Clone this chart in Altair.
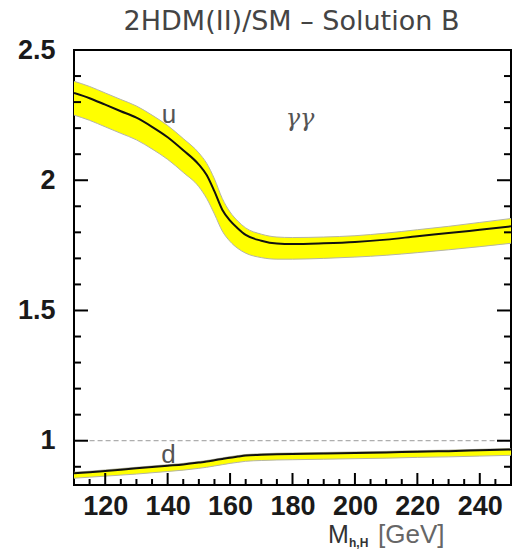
import altair as alt
import pandas as pd

# ---- data ----
mass = [110, 115, 120, 125, 130, 135, 140, 145, 150, 152.5, 155, 157.5, 160,
        162.5, 165, 170, 175, 180, 190, 200, 210, 220, 230, 240, 250]
u_c = [2.335, 2.315, 2.29, 2.265, 2.24, 2.205, 2.165, 2.115, 2.06, 2.02, 1.957,
       1.887, 1.845, 1.815, 1.79, 1.768, 1.757, 1.755, 1.758, 1.763, 1.772,
       1.785, 1.797, 1.81, 1.823]
u_hi = [2.38, 2.36, 2.335, 2.31, 2.285, 2.25, 2.21, 2.16, 2.105, 2.065, 2.005,
        1.93, 1.878, 1.843, 1.817, 1.793, 1.782, 1.78, 1.782, 1.787, 1.797,
        1.81, 1.823, 1.838, 1.853]
u_lo = [2.25, 2.23, 2.205, 2.18, 2.155, 2.12, 2.08, 2.03, 1.975, 1.93, 1.87,
        1.805, 1.765, 1.738, 1.72, 1.703, 1.697, 1.697, 1.70, 1.705, 1.712,
        1.722, 1.733, 1.745, 1.758]
d_c = [0.875, 0.879, 0.884, 0.889, 0.894, 0.899, 0.904, 0.909, 0.916, 0.920,
       0.925, 0.930, 0.935, 0.939, 0.943, 0.946, 0.948, 0.949, 0.951, 0.953,
       0.955, 0.958, 0.960, 0.963, 0.966]
d_hi = [0.879, 0.883, 0.888, 0.893, 0.898, 0.903, 0.908, 0.913, 0.920, 0.924,
        0.929, 0.934, 0.939, 0.943, 0.947, 0.950, 0.952, 0.953, 0.955, 0.957,
        0.959, 0.962, 0.964, 0.967, 0.970]
d_lo = [0.856, 0.860, 0.864, 0.868, 0.872, 0.877, 0.882, 0.887, 0.894, 0.898,
        0.903, 0.908, 0.913, 0.917, 0.921, 0.924, 0.926, 0.927, 0.929, 0.931,
        0.933, 0.936, 0.938, 0.941, 0.944]

x_major = [120, 140, 160, 180, 200, 220, 240]
x_minor = [115, 125, 130, 135, 145, 150, 155, 165, 170, 175, 185, 190, 195,
           205, 210, 215, 225, 230, 235, 245]
y_major = [1, 1.5, 2, 2.5]
y_minor = [0.9, 1.1, 1.2, 1.3, 1.4, 1.6, 1.7, 1.8, 1.9, 2.1, 2.2, 2.3, 2.4]

label_text = ["u", "d"]
label_x = [140.4, 140.3]
label_y = [2.219, 0.916]
gg_text = ["γγ"]
gg_x = [182.4]
gg_y = [2.207]
ref_line_y = [1.0]
ref_line_x = [115]
ref_line_x2 = [250]
title_text = ["2HDM(II)/SM – Solution B"]
xtitle_main = ["M"]
xtitle_sub = ["h,H"]
xtitle_unit = ["[GeV]"]

W, H = 437, 435

df = pd.DataFrame({"mass": mass, "u_c": u_c, "u_hi": u_hi, "u_lo": u_lo,
                   "d_c": d_c, "d_hi": d_hi, "d_lo": d_lo})

xs = alt.Scale(domain=[110, 250], nice=False, zero=False)
ys = alt.Scale(domain=[0.83, 2.5], nice=False, zero=False)

x_axis = alt.Axis(values=x_major, format="d", ticks=False, domain=False, grid=False,
                  labelFontSize=27, labelFont="Liberation Sans", labelFontWeight="bold",
                  labelColor="#1a1a1a", labelPadding=8, labelFlush=False,
                  labelOverlap=False, title=None)
y_axis = alt.Axis(values=y_major, format="~g", ticks=False, domain=False, grid=False,
                  labelFontSize=27, labelFont="Liberation Sans", labelFontWeight="bold",
                  labelColor="#1a1a1a", labelPadding=19, labelFlush=False,
                  labelOverlap=False, title=None)


def XQ(field):
    return alt.X(f"{field}:Q", scale=xs, axis=x_axis, title=None)


def YQ(field):
    return alt.Y(f"{field}:Q", scale=ys, axis=y_axis, title=None)


base = alt.Chart(df)

layers = []
# u band
layers.append(base.mark_area(color="#ffff00", interpolate="monotone", clip=True).encode(
    x=XQ("mass"), y=YQ("u_lo"), y2="u_hi:Q"))
for col in ["u_hi", "u_lo"]:
    layers.append(base.mark_line(color="#b5b5a5", strokeWidth=1, interpolate="monotone", clip=True).encode(
        x=XQ("mass"), y=YQ(col)))
layers.append(base.mark_line(color="#111111", strokeWidth=2, interpolate="monotone", clip=True).encode(
    x=XQ("mass"), y=YQ("u_c")))
# d band
layers.append(base.mark_area(color="#ffff00", interpolate="monotone", clip=True).encode(
    x=XQ("mass"), y=YQ("d_lo"), y2="d_hi:Q"))
for col in ["d_hi", "d_lo"]:
    layers.append(base.mark_line(color="#b5b5a5", strokeWidth=1, interpolate="monotone", clip=True).encode(
        x=XQ("mass"), y=YQ(col)))
layers.append(base.mark_line(color="#111111", strokeWidth=2, interpolate="monotone", clip=True).encode(
    x=XQ("mass"), y=YQ("d_c")))

# dashed reference at 1
ref_df = pd.DataFrame({"y": ref_line_y, "x": ref_line_x, "x2": ref_line_x2})
layers.append(alt.Chart(ref_df).mark_rule(color="#9a9a9a", strokeWidth=1, strokeDash=[5, 3]).encode(
    x=XQ("x"), x2="x2:Q", y=YQ("y")))

# tick marks (pointing inward)
ymaj = pd.DataFrame({"v": y_major})
ymin = pd.DataFrame({"v": y_minor})
xmaj = pd.DataFrame({"v": x_major})
xmin = pd.DataFrame({"v": x_minor})
for d, ln in [(ymaj, 14), (ymin, 7)]:
    layers.append(alt.Chart(d).mark_rule(color="black", strokeWidth=2).encode(
        y=YQ("v"), x=alt.value(0), x2=alt.value(ln)))
    layers.append(alt.Chart(d).mark_rule(color="black", strokeWidth=2).encode(
        y=YQ("v"), x=alt.value(W), x2=alt.value(W - ln)))
for d, ln in [(xmaj, 12), (xmin, 6)]:
    layers.append(alt.Chart(d).mark_rule(color="black", strokeWidth=2).encode(
        x=XQ("v"), y=alt.value(H), y2=alt.value(H - ln)))

# curve labels
lab_df = pd.DataFrame({"t": label_text, "x": label_x, "y": label_y})
layers.append(alt.Chart(lab_df).mark_text(font="Liberation Sans", fontSize=26, color="#555555",
                                          baseline="alphabetic", align="center").encode(
    x=XQ("x"), y=YQ("y"), text="t:N"))
gg_df = pd.DataFrame({"t": gg_text, "x": gg_x, "y": gg_y})
layers.append(alt.Chart(gg_df).mark_text(font="DejaVu Serif", fontStyle="italic", fontSize=24,
                                         color="#555555", baseline="alphabetic", align="center").encode(
    x=XQ("x"), y=YQ("y"), text="t:N"))

# title
layers.append(alt.Chart(pd.DataFrame({"t": title_text})).mark_text(
    font="DejaVu Sans", fontSize=27, color="#444444", align="center", baseline="alphabetic").encode(
    x=alt.value(W / 2 - 1), y=alt.value(-20), text="t:N"))

# x axis title  M_{h,H} [GeV]
layers.append(alt.Chart(pd.DataFrame({"t": xtitle_main})).mark_text(
    font="Liberation Sans", fontSize=25, color="#333333", align="left", baseline="alphabetic").encode(
    x=alt.value(254), y=alt.value(493), text="t:N"))
layers.append(alt.Chart(pd.DataFrame({"t": xtitle_sub})).mark_text(
    font="Liberation Sans", fontSize=12, fontWeight="bold", color="#333333", align="left",
    baseline="alphabetic").encode(x=alt.value(275), y=alt.value(497), text="t:N"))
layers.append(alt.Chart(pd.DataFrame({"t": xtitle_unit})).mark_text(
    font="Liberation Sans", fontSize=26, color="#666666", align="left", baseline="alphabetic").encode(
    x=alt.value(304), y=alt.value(493), text="t:N"))

chart = alt.layer(*layers).properties(
    width=W, height=H,
    autosize=alt.AutoSizeParams(type="none"),
    padding={"left": 74, "top": 50, "right": 1, "bottom": 65},
).configure_view(stroke="black", strokeWidth=2)

chart.save("out.html", embed_options={"renderer": "svg", "actions": False})
